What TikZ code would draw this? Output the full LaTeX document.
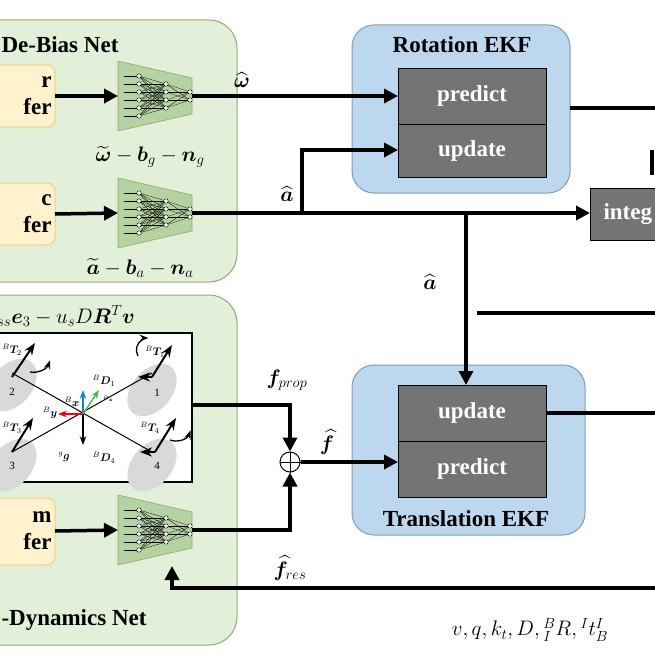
\RequirePackage{fix-cm}
\documentclass[tikz,border=0pt]{standalone}
\usepackage{amsmath,bm}
\usepackage{fontspec}
\setmainfont{Liberation Serif}
\usetikzlibrary{arrows.meta}
\definecolor{pg}{HTML}{E2EFD9}
\definecolor{pgb}{HTML}{8FAA70}
\definecolor{nng}{HTML}{B5D3A0}
\definecolor{yel}{HTML}{FFF2CC}
\definecolor{yelb}{HTML}{E8D28A}
\definecolor{blu}{HTML}{BDD7EE}
\definecolor{blub}{HTML}{7F9DB8}
\definecolor{gbox}{HTML}{747474}
\begin{document}
\begin{tikzpicture}[x=1pt,y=-1pt,
 panel/.style={draw=pgb,fill=pg,line width=1pt,rounded corners=28pt},
 ekf/.style={draw=blub,fill=blu,line width=1pt,rounded corners=22pt},
 buf/.style={draw=yelb,fill=yel,line width=1pt,rounded corners=8pt},
 op/.style={draw=black,fill=gbox,line width=0.8pt},
 wt/.style={text=white,font=\fontsize{23}{26}\selectfont\bfseries},
 tt/.style={font=\fontsize{23}{27}\selectfont\bfseries},
 lbl/.style={font=\fontsize{21}{24}\selectfont,inner sep=1pt},
 dl/.style={font=\fontsize{11}{12}\selectfont,inner sep=1pt},
 fl/.style={line width=3.5pt},
 ar/.style={line width=3.5pt,-{Triangle[length=14pt,width=14pt]}},
 nn/.style={draw=pgb,fill=nng,line width=0.6pt}]
\useasboundingbox (0,0) rectangle (655,655);
\clip (0,0) rectangle (655,655);
% panels
\draw[panel] (-30,20) rectangle (237,282);
\draw[panel] (-30,295) rectangle (237,645);
\node[tt,anchor=west] (t1) at (-2,45) {De-Bias Net};
\node[tt,anchor=west] (t2) at (-2,620) {-Dynamics Net};
% buffers
\draw[buf] (-20,65) rectangle (55,127);
\node[tt,anchor=east,align=right] (b1) at (55,96) {r\\fer};
\draw[buf] (-20,183) rectangle (55,245);
\node[tt,anchor=east,align=right] (b2) at (55,214) {c\\fer};
\draw[buf] (-20,498) rectangle (55,565);
\node[tt,anchor=east,align=right] (b3) at (55,531) {m\\fer};
% neural nets
\foreach \n/\cy in {n1/96,n2/213,n3/530}{
 \draw[nn] (118,\cy-35) -- (192,\cy-18) -- (192,\cy+18) -- (118,\cy+35) -- cycle;
 \coordinate (\n w) at (118,\cy); \coordinate (\n e) at (192,\cy);
 \foreach \i in {-2.5,-1.5,...,2.5}{
  \foreach \j in {-1.5,-0.5,...,1.5}{\draw[line width=0.3pt] (139,\cy+\i*8) -- (166,\cy+\j*8);}
  \draw[line width=0.3pt] (124,\cy+\i*8) -- (139,\cy+\i*8);}
 \foreach \j in {-1.5,-0.5,...,1.5}{\foreach \k in {-0.5,0.5}{\draw[line width=0.3pt] (166,\cy+\j*8) -- (190,\cy+\k*8);}}
 \foreach \i in {-2.5,-1.5,...,2.5}{\draw[fill=white,line width=0.4pt] (139,\cy+\i*8) circle (2.2);}
 \foreach \j in {-1.5,-0.5,...,1.5}{\draw[fill=white,line width=0.4pt] (166,\cy+\j*8) circle (2.2);}
 \foreach \k in {-0.5,0.5}{\draw[fill=white,line width=0.4pt] (190,\cy+\k*8) circle (2.2);}
}
\node[lbl] (l1) at (150,157) {$\widetilde{\bm\omega}-\bm b_g-\bm n_g$};
\node[lbl] (l2) at (140,268) {$\widetilde{\bm a}-\bm b_a-\bm n_a$};
\draw[ar] (55,96) -- (n1w);
\draw[ar] (55,214) -- (n2w);
\draw[ar] (55,531) -- (n3w);
% rotation EKF
\draw[ekf] (352,25) rectangle (570,193);
\node[tt] (rt) at (462,45) {Rotation EKF};
\draw[op] (398,68) rectangle (546,124);
\node[wt] (rp) at (472,96) {predict};
\draw[op] (398,124) rectangle (546,177);
\node[wt] (ru) at (472,151) {update};
% translation EKF
\draw[ekf] (352,365) rectangle (585,535);
\node[tt] (tt) at (466,519) {Translation EKF};
\draw[op] (398,385) rectangle (546,441);
\node[wt] (tu) at (472,413) {update};
\draw[op] (398,441) rectangle (546,497);
\node[wt] (tp) at (472,469) {predict};
% integrate
\draw[op] (590,188) rectangle (670,240);
\node[wt,anchor=west] (ig) at (600,214) {integ};
% connections
\draw[ar] (n1e) -- (398,96);
\node[lbl] (wh) at (242,80) {$\widehat{\bm\omega}$};
\draw[ar] (n2e) -- (590,213);
\node[lbl] (ah) at (287,194) {$\widehat{\bm a}$};
\draw[ar] (302,214.75) -- (302,150) -- (398,150);
\draw[ar] (466,213) -- (466,385);
\node[lbl] (ah2) at (430,282) {$\widehat{\bm a}$};
\draw[fl] (477,313) -- (660,313);
\draw[fl] (570,108) -- (660,108);
\draw[fl] (652,150) -- (652,175);
\draw[fl] (546,413) -- (660,413);
% drone box
\draw[fill=white,line width=1.2pt] (-5,333) rectangle (192,482);
\foreach \x/\y in {152/390,12/385,12/465,152/465}{\fill[gray!30,rotate around={-40:(\x,\y)}] (\x,\y) ellipse (20 and 30);}
\draw[line width=1pt] (12,373) -- (152,452);
\draw[line width=1pt] (12,452) -- (152,373);
\draw[line width=2pt,-{Stealth}] (152,377) -- (172,345);
\draw[line width=2pt,-{Stealth}] (12,377) -- (35,343);
\draw[line width=2pt,-{Stealth}] (12,452) -- (33,418);
\draw[line width=2pt,-{Stealth}] (155,452) -- (176,418);
\draw[line width=2pt,-{Stealth}] (152,377) -- (138,377);
\draw[line width=2pt,-{Stealth}] (155,452) -- (140,452);
\draw[line width=1.3pt,-{Stealth}] (138,356) arc (150:270:12);
\draw[line width=1.3pt,-{Stealth}] (30,372) arc (100:20:18);
\draw[line width=1.3pt,-{Stealth}] (170,440) arc (110:20:16);
\draw[line width=1.3pt,-{Stealth}] (83,414) -- (83,445);
\draw[line width=1.3pt,red,-{Stealth}] (83,414) -- (58,414);
\draw[line width=1.3pt,cyan!70!blue,-{Stealth}] (83,414) -- (83,390);
\draw[line width=1.3pt,green!50!gray,-{Stealth}] (83,414) -- (99,390);
\node[dl] (T1) at (155,352) {$^B\bm T_1$};
\node[dl] (T2) at (12,350) {$^B\bm T_2$};
\node[dl] (T3) at (12,428) {$^B\bm T_3$};
\node[dl] (T4) at (150,428) {$^B\bm T_4$};
\node[dl] (m1) at (157,393) {1};
\node[dl] (m2) at (12,392) {2};
\node[dl] (m3) at (12,466) {3};
\node[dl] (m4) at (157,466) {4};
\node[dl] (D1) at (104,381) {$^B\bm D_1$};
\node[dl] (D4) at (104,458) {$^B\bm D_4$};
\node[font=\tiny,inner sep=0pt] (Bz) at (108,399) {$^B\bm z$};
\node[dl] (Bx) at (72,402) {$^B\bm x$};
\node[dl] (By) at (50,413) {$^B\bm y$};
\node[dl] (gg) at (64,457) {$^g\bm g$};
\node[lbl,anchor=west] (fm) at (-4,316) {$_{ss}\bm e_3-u_sD\bm R^T\bm v$};
% sum
\node[draw,circle,line width=1pt,minimum size=20pt,inner sep=0pt] (sum) at (290,462) {};
\draw (sum.north) -- (sum.south) (sum.west) -- (sum.east);
\draw[ar] (192,405) -- (290,405) -- (sum.north);
\node[lbl] (fp) at (287,380) {$\bm f_{prop}$};
\draw[ar] (n3e) -- (290,530) -- (sum.south);
\node[lbl] (fr) at (290,568) {$\widehat{\bm f}_{res}$};
\draw[ar] (sum.east) -- (398,462);
\node[lbl] (fh) at (327,442) {$\widehat{\bm f}$};
% feedback
\draw[ar] (660,588) -- (172,588) -- (172,566);
\node[lbl] (st) at (530,630) {$v,q,k_t,D,{}^B_IR,{}^It^I_B$};
\end{tikzpicture}
\end{document}
